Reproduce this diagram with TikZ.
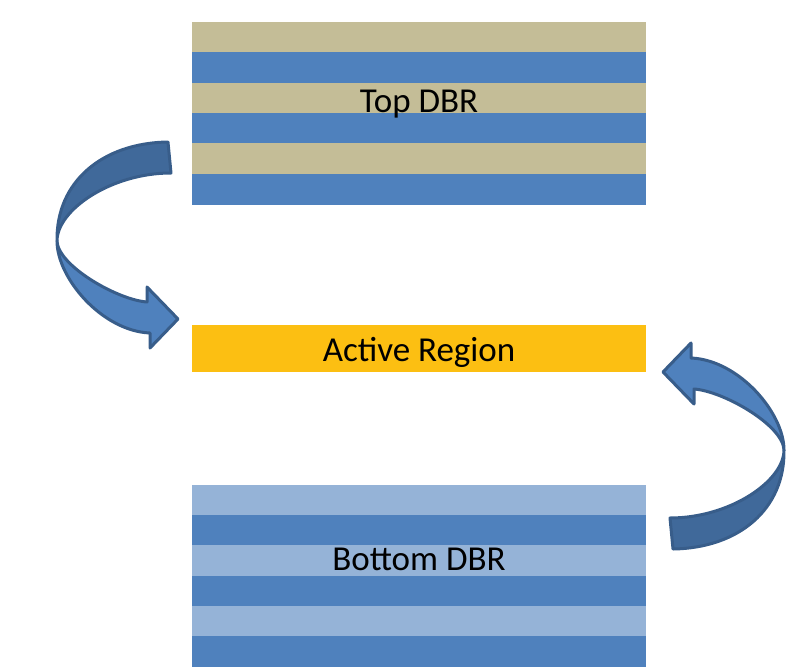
\documentclass[tikz,border=0pt]{standalone}
\usepackage{fontspec}
\setmainfont{Carlito}
\definecolor{tan}{HTML}{C4BD97}
\definecolor{dbrblue}{HTML}{4F81BD}
\definecolor{lightblue}{HTML}{95B3D7}
\definecolor{gold}{HTML}{FCBF12}
\definecolor{arrowdark}{HTML}{40699A}
\definecolor{arrowline}{HTML}{385D8A}
\tikzset{
  lbl/.style={anchor=base, inner sep=0pt, font=\fontsize{35}{40}\selectfont, text=black},
  arrowband/.style={draw=arrowline, line width=3pt, line join=round},
  pics/curvarrow/.style={code={
    % back (dark) band
    \fill[arrowdark, arrowband] (168,142) .. controls (102,143) and (56,182) .. (57,241)
       .. controls (57,210) and (111,173) .. (171,173) -- cycle;
    % front (light) band with head
    \fill[dbrblue, arrowband] (57,241) .. controls (57,278) and (102,331) .. (150,333)
       -- (150,348) -- (178,319) -- (147,287) -- (147,302)
       .. controls (118,300) and (58,266) .. (57,241) -- cycle;
  }}
}
\begin{document}
\begin{tikzpicture}[x=1pt,y=-1pt]
\useasboundingbox (0,0) rectangle (788,667);
% Top DBR
\fill[tan] (192,22) rectangle (646,52);
\fill[dbrblue] (192,52) rectangle (646,83);
\fill[tan] (192,83) rectangle (646,113);
\fill[dbrblue] (192,113) rectangle (646,143);
\fill[tan] (192,143) rectangle (646,174);
\fill[dbrblue] (192,174) rectangle (646,205);
\node[lbl] (top) at (419,112) {Top DBR};
% Active region
\fill[gold] (192,325) rectangle (646,372);
\node[lbl] (active) at (419,361) {Active Region};
% Bottom DBR
\fill[lightblue] (192,485) rectangle (646,515);
\fill[dbrblue] (192,515) rectangle (646,545);
\fill[lightblue] (192,545) rectangle (646,576);
\fill[dbrblue] (192,576) rectangle (646,606);
\fill[lightblue] (192,606) rectangle (646,636);
\fill[dbrblue] (192,636) rectangle (646,667);
\node[lbl] (bottom) at (419,570) {Bottom DBR};
% Arrows
\pic (leftarrow) at (0,0) {curvarrow};
\begin{scope}[rotate around={180:(420.5,345.5)}]
\pic[transform shape] (rightarrow) at (0,0) {curvarrow};
\end{scope}
\end{tikzpicture}
\end{document}
